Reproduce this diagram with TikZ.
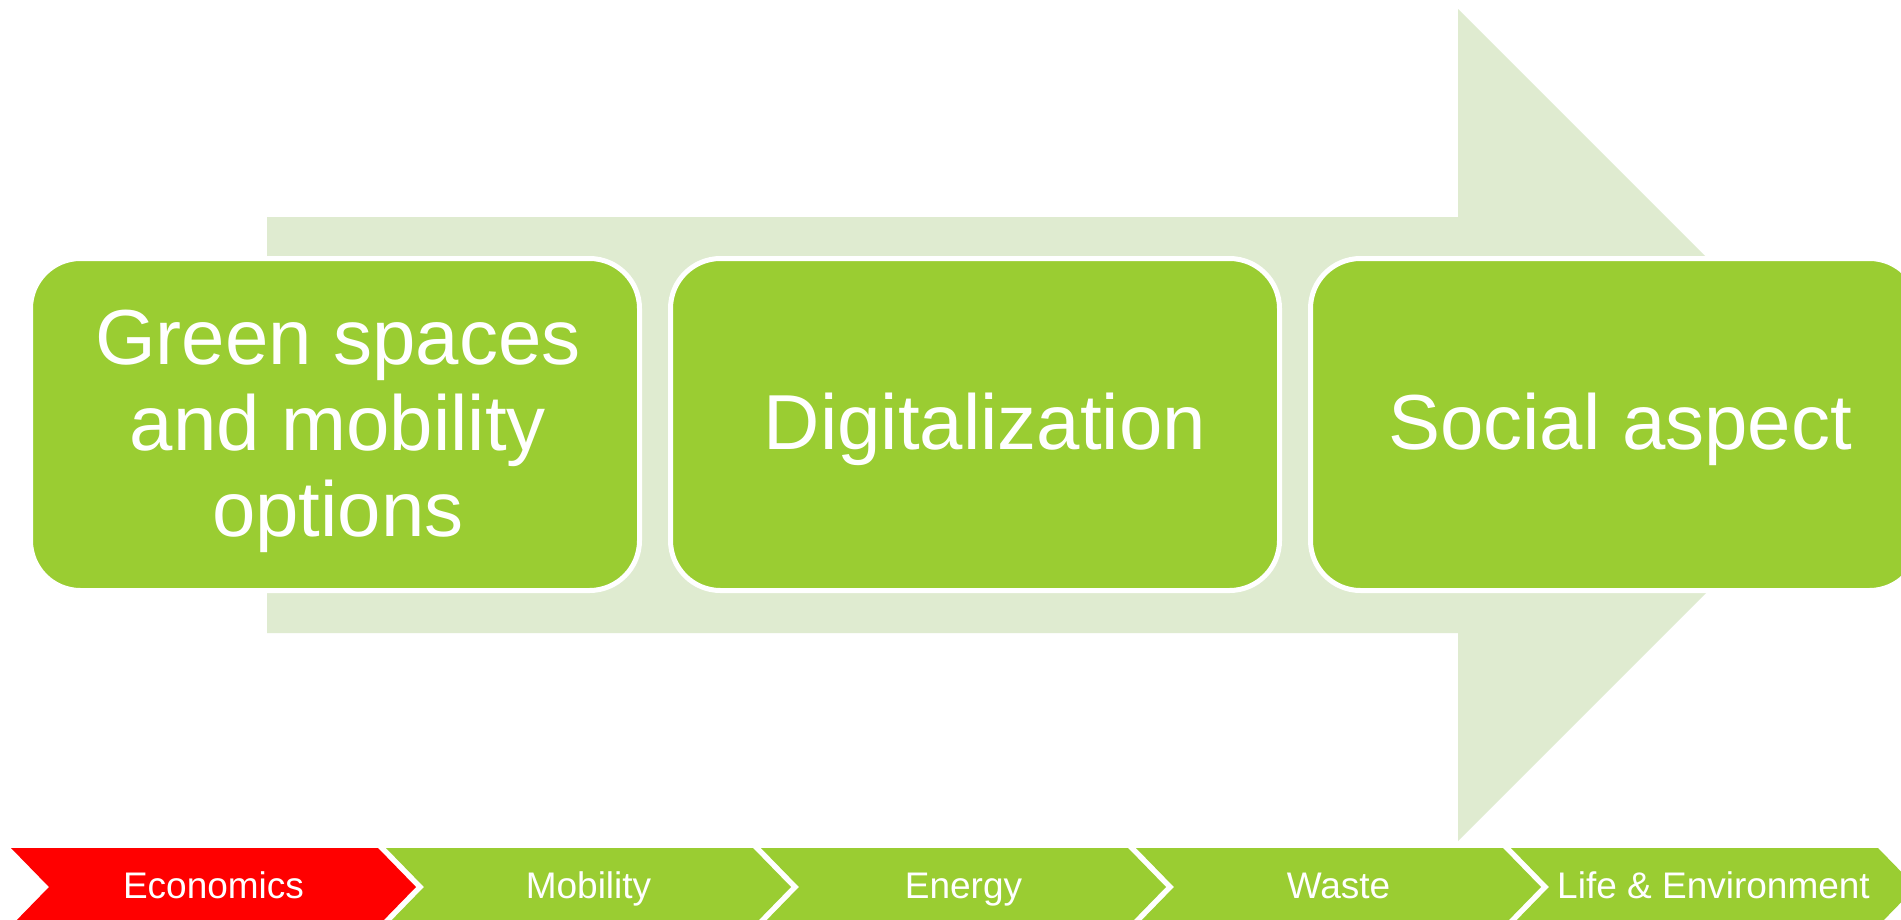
\documentclass[tikz,border=0pt]{standalone}
\usepackage{fontspec}
\setmainfont{Liberation Sans}
\definecolor{ygreen}{HTML}{9ACD32}
\definecolor{lgreen}{HTML}{DFEBD0}
\definecolor{cred}{HTML}{FF0000}
\tikzset{
  bigbox/.style={fill=ygreen, draw=white, line width=5pt, rounded corners=50pt,
    minimum width=609pt, minimum height=332pt, inner sep=0pt},
  bigtxt/.style={text=white, font=\fontsize{78}{86}\selectfont, inner sep=0pt, anchor=base},
  chevtxt/.style={text=white, font=\fontsize{37}{44}\selectfont, inner sep=0pt, anchor=base},
}
\newcommand{\mychev}[4]{%
  \fill[#2] (#1,848) -- ++(367,0) -- ++(38,39) -- ++(-38,39) -- ++(-367,0) -- ++(38,-39) -- cycle;
  \node[chevtxt] (#3) at ({#1+202.5},898) {#4};
}
\begin{document}
\begin{tikzpicture}[x=1pt,y=-1pt]
  \useasboundingbox (0,0) rectangle (1901,919);
  \fill[white] (0,0) rectangle (1901,919);
  \clip (0,0) rectangle (1901,919);
  % big background arrow
  \fill[lgreen] (267,217) -- (1458,217) -- (1458,9) -- (1874,425) -- (1458,841)
     -- (1458,633) -- (267,633) -- cycle;
  % boxes
  \node[bigbox] (b1) at (335,424.5) {};
  \node[bigbox] (b2) at (975,424.5) {};
  \node[bigbox] (b3) at (1615,424.5) {};
  \node[bigtxt] (t1) at (338,364) {\begin{tabular}[t]{@{}c@{}}Green spaces\\and mobility\\options\end{tabular}};
  \node[bigtxt] (t2) at (985,449) {Digitalization};
  \node[bigtxt] (t3) at (1620,449) {Social aspect};
  % chevrons
  \mychev{11}{cred}{c1}{Economics}
  \mychev{386}{ygreen}{c2}{Mobility}
  \mychev{761}{ygreen}{c3}{Energy}
  \mychev{1136}{ygreen}{c4}{Waste}
  \mychev{1511}{ygreen}{c5}{Life \& Environment}
\end{tikzpicture}
\end{document}
